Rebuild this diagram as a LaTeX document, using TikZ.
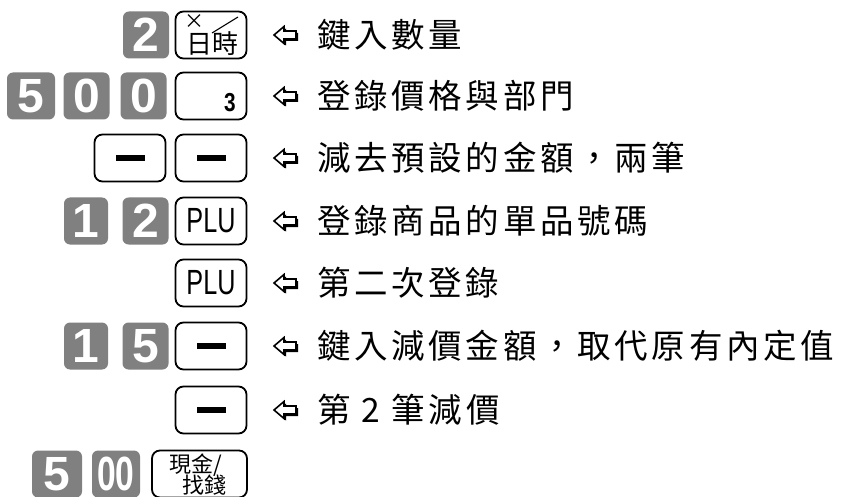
\documentclass[tikz,border=0pt]{standalone}
\usepackage{fontspec}
\setmainfont{Liberation Sans}
\newfontfamily\cjk[LetterSpace=11]{Noto Sans CJK TC}
\newfontfamily\cjkkey{Noto Sans CJK TC}
\usetikzlibrary{calc}

\definecolor{keygray}{HTML}{808080}

\tikzset{
  numkey/.style={fill=keygray, rounded corners=6pt, minimum width=46pt, minimum height=47pt,
    inner sep=0pt, text=white, font=\fontsize{48}{48}\selectfont\bfseries},
  fnkey/.style={draw, line width=1.8pt, rounded corners=8pt, minimum width=71pt,
    minimum height=47pt, inner sep=0pt, fill=white},
  stepnote/.style={anchor=west, inner sep=0pt, font=\cjk\fontsize{33.5}{34}\selectfont},
  backarrow/.pic={
    \fill[black] (2,2) -- ++(10,-8.5) -- ++(0,4.5) -- ++(12,0) -- ++(0,8) -- ++(-12,0) -- ++(0,4.5) -- cycle;
    \draw[fill=white, line width=1.6pt, line join=miter] (0,0) -- ++(10,-8.5) -- ++(0,4.5) -- ++(12,0) -- ++(0,8) -- ++(-12,0) -- ++(0,4.5) -- cycle;
  }
}

\newcommand{\minusbar}{\rule{29pt}{6pt}}

\begin{document}
\begin{tikzpicture}[x=1pt, y=-1pt]
	\useasboundingbox (0,0) rectangle (843,497);
	\clip (0,0) rectangle (843,497);

	% Row coordinates (centre of the function key column)
	\coordinate (r1) at (211,35);
	\coordinate (r2) at (211,96);
	\coordinate (r3) at (211,158);
	\coordinate (r4) at (211,221);
	\coordinate (r5) at (211,283);
	\coordinate (r6) at (211,346);
	\coordinate (r7) at (211,410);
	\coordinate (r8) at (211,474);

	% Row 1
	\node[numkey] (k12) at ($(r1)+(-65,0)$) {2};
	\node[fnkey] (kmul) at (r1) {};
	\node[font=\cjkkey\fontsize{20}{20}\selectfont, inner sep=0pt] (kmulx) at ($(r1)+(-17,-13)$) {×};
	\node[font=\cjkkey\fontsize{26}{26}\selectfont, inner sep=0pt] (kmuldt) at ($(r1)+(1,9)$) {日時};
	\coordinate (slasha) at ($(r1)+(1,-2)$);
	\coordinate (slashb) at ($(r1)+(27,-18)$);
	\draw[line width=1.1pt] (slasha) -- (slashb);

	% Row 2
	\node[numkey, minimum width=48pt] (k25) at ($(r2)+(-180,0)$) {5};
	\node[numkey] (k20a) at ($(r2)+(-124.5,0)$) {0};
	\node[numkey] (k20b) at ($(r2)+(-67.5,0)$) {0};
	\node[fnkey] (kdept) at (r2) {};
	\node[font=\fontsize{26}{26}\selectfont\bfseries, inner sep=0pt] (kdept3) at ($(r2)+(19,7)$) {\scalebox{0.8}[1]{3}};

	% Row 3
	\node[fnkey] (kmina) at ($(r3)+(-81,0)$) {\minusbar};
	\node[fnkey] (kminb) at (r3) {\minusbar};

	% Row 4
	\node[numkey, minimum width=44pt] (k41) at ($(r4)+(-125,0)$) {1};
	\node[numkey] (k42) at ($(r4)+(-65.5,0)$) {2};
	\node[fnkey, font=\fontsize{35}{35}\selectfont] (kplua) at (r4) {\scalebox{0.72}[1]{PLU}};

	% Row 5
	\node[fnkey, font=\fontsize{35}{35}\selectfont] (kplub) at (r5) {\scalebox{0.72}[1]{PLU}};

	% Row 6
	\node[numkey, minimum width=44pt] (k61) at ($(r6)+(-125,0)$) {1};
	\node[numkey] (k65) at ($(r6)+(-65.5,0)$) {5};
	\node[fnkey] (kminc) at (r6) {\minusbar};

	% Row 7
	\node[fnkey] (kmind) at (r7) {\minusbar};

	% Row 8 (cut by the lower edge)
	\node[numkey, minimum width=50pt] (k85) at ($(r8)+(-154,0)$) {5};
	\node[numkey, minimum width=48pt] (k800) at ($(r8)+(-95,0)$) {\scalebox{0.7}[1]{00}};
	\node[fnkey, minimum width=95pt] (kcash) at ($(r8)+(-11.5,0)$) {};
	\node[font=\cjkkey\fontsize{22}{22}\selectfont, inner sep=0pt] (kcasha) at ($(r8)+(-15,-9)$) {現金/};
	\node[font=\cjkkey\fontsize{22}{22}\selectfont, inner sep=0pt] (kcashb) at ($(r8)+(-7,11)$) {找錢};

	% Arrows and notes
	\foreach \r/\txt in {r1/鍵入數量, r2/登錄價格與部門, r3/減去預設的金額，兩筆,
	                     r4/登錄商品的單品號碼, r5/第二次登錄, r6/鍵入減價金額，取代原有內定值,
	                     r7/第 2 筆減價}{
		\pic at ($(\r)+(63,0)$) {backarrow};
		\node[stepnote] (note-\r) at ($(\r)+(106,0)$) {\txt};
	}
\end{tikzpicture}
\end{document}
